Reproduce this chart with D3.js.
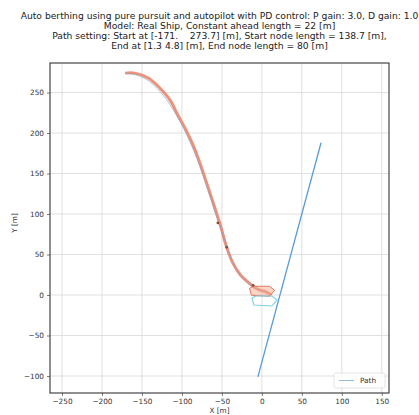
<!DOCTYPE html>
<html lang="en">
<head>
  <meta charset="utf-8" />
  <script src="https://d3js.org/d3.v7.min.js"></script>
  <style>
    body { margin: 0; background: #fff; }
    text { font-family: "DejaVu Sans", sans-serif; white-space: pre; }
  </style>
</head>
<body>
  <div id="chart"></div>
  <script>
    'use strict';
    const svgWidth = 419;
    const svgHeight = 415;
    const margin = {top: 63, right: 30, bottom: 22, left: 50};

    const titleLines = [
      "Auto berthing using pure pursuit and autopilot with PD control: P gain: 3.0, D gain: 1.0",
      "Model: Real Ship, Constant ahead length = 22 [m]",
      "Path setting: Start at [-171.    273.7] [m], Start node length = 138.7 [m],",
      "End at [1.3 4.8] [m], End node length = 80 [m]"
    ];
    const xTicks = [-250, -200, -150, -100, -50, 0, 50, 100, 150];
    const yTicks = [-100, -50, 0, 50, 100, 150, 200, 250];

    // path (curve to the end node, then the straight end line)
    const pathX = [-171, -158, -144, -131, -119, -108, -98, -89, -81, -73, -66, -59, -52, -45, -38, -29, -18, -8, 1.3];
    const pathY = [273.7, 272, 266, 255, 241, 224, 206, 187, 168, 146, 125, 104, 84, 63, 43, 27, 15, 8, 4.8];
    const lineX = [-5, 74];
    const lineY = [-101, 188];

    // ship trajectory
    const trajX = [-171, -159, -142, -128, -115, -105, -95, -86, -79, -71, -64, -57, -51, -45, -37, -27, -15, -5, 5, 12];
    const trajY = [274, 274, 268, 256, 241, 222, 204, 185, 167, 144, 123, 102, 83, 62, 41, 25, 14, 7, 4, 0];
    const markX = [-55, -44, -11];
    const markY = [89, 59, 12];

    // ship outline at the end
    const shipX = [-12.5, -10, 12.5, 19, 12.5, -7.5, -12.5];
    const shipY = [-3.7, -12.3, -13.6, -6.2, -1.2, -1.2, -3.7];

    const svg = d3.select("#chart").append("svg")
      .attr("width", svgWidth).attr("height", svgHeight);

    const x = d3.scaleLinear().domain([-265, 159]).range([margin.left, svgWidth - margin.right]);
    const y = d3.scaleLinear().domain([-121, 286.5]).range([svgHeight - margin.bottom, margin.top]);
    const fmt = d => d < 0 ? "\u2212" + Math.abs(d) : String(d);
    const fs = 7.3;

    // title
    svg.append("g").selectAll("text").data(titleLines).join("text")
      .attr("x", (margin.left + svgWidth - margin.right) / 2)
      .attr("y", (d, i) => 19 + i * 10)
      .attr("text-anchor", "middle")
      .attr("font-size", 9.2)
      .attr("fill", "#222")
      .text(d => d);

    // grid
    const grid = svg.append("g").attr("stroke", "#d8d8d8").attr("stroke-width", 0.8);
    grid.selectAll(".gx").data(xTicks).join("line")
      .attr("x1", d => x(d)).attr("x2", d => x(d))
      .attr("y1", y.range()[0]).attr("y2", y.range()[1]);
    grid.selectAll(".gy").data(yTicks).join("line")
      .attr("y1", d => y(d)).attr("y2", d => y(d))
      .attr("x1", x.range()[0]).attr("x2", x.range()[1]);

    svg.append("clipPath").attr("id", "clip").append("rect")
      .attr("x", x.range()[0]).attr("y", y.range()[1])
      .attr("width", x.range()[1] - x.range()[0]).attr("height", y.range()[0] - y.range()[1]);
    const plot = svg.append("g").attr("clip-path", "url(#clip)");

    const line = d3.line().x(d => x(d[0])).y(d => y(d[1])).curve(d3.curveCatmullRom);

    // trajectory (red)
    plot.append("path").datum(d3.zip(trajX, trajY))
      .attr("d", line).attr("fill", "none")
      .attr("stroke", "#ee8468").attr("stroke-width", 3).attr("opacity", 0.9);

    // path (blue)
    plot.append("path").datum(d3.zip(pathX, pathY))
      .attr("d", line).attr("fill", "none")
      .attr("stroke", "#7fa6cf").attr("stroke-width", 0.8).attr("opacity", 0.8);
    plot.append("path").datum(d3.zip(lineX, lineY))
      .attr("d", d3.line().x(d => x(d[0])).y(d => y(d[1])))
      .attr("fill", "none").attr("stroke", "#5b9bd5").attr("stroke-width", 1.3);

    // red ship blob at end
    plot.append("path").datum(d3.zip(shipX, shipY.map(v => v + 12)))
      .attr("d", d3.line().x(d => x(d[0] - 3)).y(d => y(d[1])))
      .attr("fill", "#f4a990").attr("fill-opacity", 0.5)
      .attr("stroke", "#de7a60").attr("stroke-width", 1);

    // ship outline (cyan)
    plot.append("path").datum(d3.zip(shipX, shipY))
      .attr("d", d3.line().x(d => x(d[0])).y(d => y(d[1])))
      .attr("fill", "none").attr("stroke", "#7ccfe0").attr("stroke-width", 1.1);

    plot.selectAll(".mark").data(d3.zip(markX, markY)).join("circle")
      .attr("cx", d => x(d[0])).attr("cy", d => y(d[1])).attr("r", 1.4)
      .attr("fill", "#8a4a3a");

    // axes
    const xAxis = svg.append("g")
      .attr("transform", `translate(0,${y.range()[0]})`)
      .call(d3.axisBottom(x).tickValues(xTicks).tickFormat(fmt).tickSize(3).tickPadding(3));
    const yAxis = svg.append("g")
      .attr("transform", `translate(${x.range()[0]},0)`)
      .call(d3.axisLeft(y).tickValues(yTicks).tickFormat(fmt).tickSize(3).tickPadding(3));
    [xAxis, yAxis].forEach(a => {
      a.select(".domain").remove();
      a.selectAll("text").attr("font-size", fs).attr("fill", "#333")
        .style("font-family", "DejaVu Sans");
      a.selectAll("line").attr("stroke", "#444").attr("stroke-width", 0.7);
    });
    svg.append("rect")
      .attr("x", x.range()[0]).attr("y", y.range()[1])
      .attr("width", x.range()[1] - x.range()[0]).attr("height", y.range()[0] - y.range()[1])
      .attr("fill", "none").attr("stroke", "#333").attr("stroke-width", 1.1);

    // axis labels
    svg.append("text").attr("x", (x.range()[0] + x.range()[1]) / 2).attr("y", 413)
      .attr("text-anchor", "middle").attr("font-size", fs).attr("fill", "#333").text("X [m]");
    svg.append("text").attr("transform", "translate(17,223) rotate(-90)")
      .attr("text-anchor", "middle").attr("font-size", fs).attr("fill", "#333").text("Y [m]");

    // legend
    const lg = svg.append("g").attr("transform", `translate(${x.range()[1] - 55},${y.range()[0] - 20})`);
    lg.append("rect").attr("width", 51).attr("height", 15).attr("rx", 2)
      .attr("fill", "#fff").attr("fill-opacity", 0.8).attr("stroke", "#ddd").attr("stroke-width", 0.8);
    lg.append("line").attr("x1", 5).attr("x2", 20).attr("y1", 7.5).attr("y2", 7.5)
      .attr("stroke", "#9bbad8").attr("stroke-width", 1);
    lg.append("text").attr("x", 26).attr("y", 10).attr("font-size", fs).attr("fill", "#333").text("Path");
  </script>
</body>
</html>
